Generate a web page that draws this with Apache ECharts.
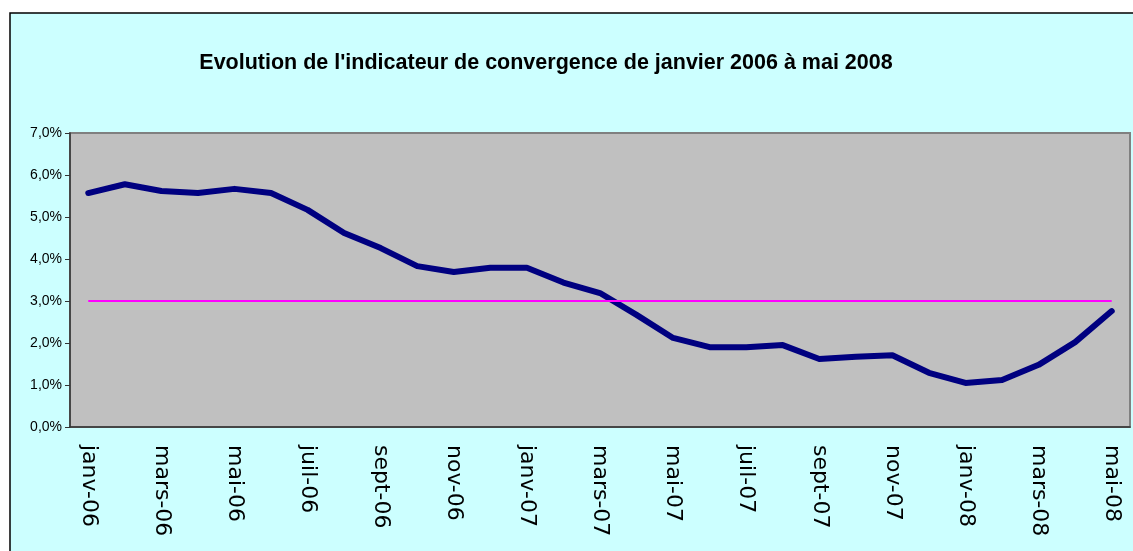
<!DOCTYPE html>
<html>
<head>
<meta charset="utf-8">
<script src="https://cdn.jsdelivr.net/npm/echarts@6/dist/echarts.min.js"></script>
<style>
  html, body { margin: 0; padding: 0; background: #ffffff; }
  #chart { width: 1133px; height: 551px; }
</style>
</head>
<body>
<div id="chart"></div>
<script>
var months = ['janv-06', 'févr-06', 'mars-06', 'avr-06', 'mai-06', 'juin-06', 'juil-06', 'août-06',
  'sept-06', 'oct-06', 'nov-06', 'déc-06', 'janv-07', 'févr-07', 'mars-07', 'avr-07', 'mai-07',
  'juin-07', 'juil-07', 'août-07', 'sept-07', 'oct-07', 'nov-07', 'déc-07', 'janv-08', 'févr-08',
  'mars-08', 'avr-08', 'mai-08'];

// indicateur de convergence, en %
var indicateur = [5.57, 5.78, 5.62, 5.57, 5.67, 5.57, 5.17, 4.62, 4.26, 3.83, 3.69, 3.79, 3.79,
  3.44, 3.19, 2.67, 2.12, 1.90, 1.90, 1.95, 1.62, 1.67, 1.71, 1.29, 1.05, 1.12, 1.48, 2.02, 2.76];

// seuil 3 %
var seuil = [3, 3, 3, 3, 3, 3, 3, 3, 3, 3, 3, 3, 3, 3, 3, 3, 3, 3, 3, 3, 3, 3, 3, 3, 3, 3, 3, 3, 3];

var yTicks = { min: 0, max: 7, step: 1 };

var chart = echarts.init(document.getElementById('chart'));

var option = {
  backgroundColor: '#ffffff',
  animation: false,
  textStyle: { fontFamily: 'Liberation Sans, Arial, sans-serif' },
  graphic: [
    {
      type: 'rect',
      z: -10,
      shape: { x: 10, y: 13, width: 1140, height: 560 },
      style: { fill: '#CCFFFF', stroke: '#000000', lineWidth: 1.5 }
    }
  ],
  title: {
    text: "Evolution de l'indicateur de convergence de janvier 2006 à mai 2008",
    left: 541,
    textAlign: 'center',
    top: 47,
    textStyle: { fontSize: 21.5, fontWeight: 'bold', color: '#000000' }
  },
  grid: {
    left: 70,
    top: 133,
    right: 3,
    bottom: 124,
    show: true,
    backgroundColor: '#C0C0C0',
    borderColor: '#808080',
    borderWidth: 2
  },
  xAxis: {
    type: 'category',
    data: months,
    boundaryGap: true,
    axisLine: { lineStyle: { color: '#333333', width: 1.5 } },
    axisTick: { interval: 1, alignWithLabel: false, length: 5, lineStyle: { color: '#333333' } },
    axisLabel: {
      interval: 1,
      rotate: -90,
      margin: 18,
      fontSize: 22,
      fontFamily: 'DejaVu Sans',
      color: '#000000'
    },
    splitLine: { show: false }
  },
  yAxis: {
    type: 'value',
    min: yTicks.min,
    max: yTicks.max,
    interval: yTicks.step,
    axisLine: { show: true, lineStyle: { color: '#333333', width: 1.5 } },
    axisTick: { show: true, length: 5, lineStyle: { color: '#333333' } },
    axisLabel: {
      fontSize: 14,
      color: '#000000',
      margin: 8,
      formatter: function (v) { return v.toFixed(1).replace('.', ',') + '%'; }
    },
    splitLine: { show: false }
  },
  series: [
    {
      name: 'Indicateur',
      type: 'line',
      data: indicateur,
      symbol: 'none',
      lineStyle: { color: '#000080', width: 6, cap: 'round', join: 'round' }
    },
    {
      name: 'Seuil',
      type: 'line',
      data: seuil,
      symbol: 'none',
      lineStyle: { color: '#FF00FF', width: 2 }
    }
  ]
};

chart.setOption(option);
</script>
</body>
</html>
